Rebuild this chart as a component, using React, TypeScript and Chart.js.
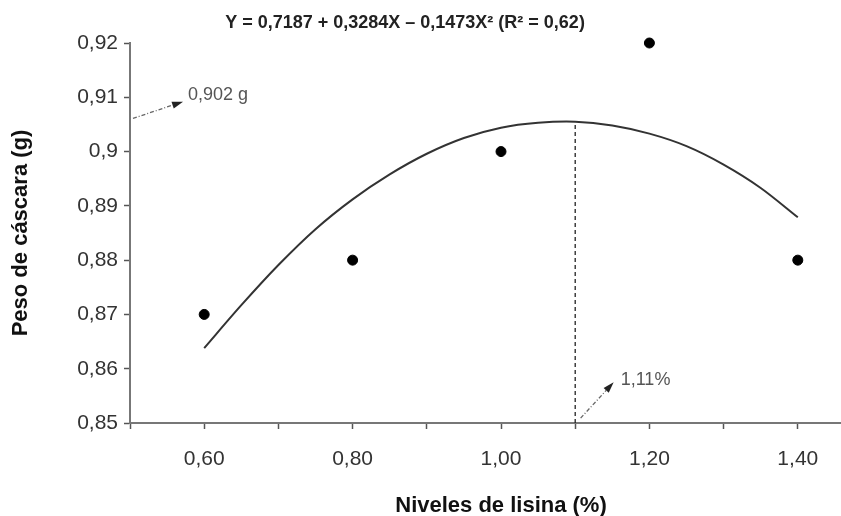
import React, { useEffect, useRef } from 'react';
import { Chart, registerables } from 'chart.js';

Chart.register(...registerables);

// ---- data ----
const levels = [0.6, 0.8, 1.0, 1.2, 1.4];
const shellWeight = [0.87, 0.88, 0.9, 0.92, 0.88];

const fitX = [0.6, 0.65, 0.7, 0.75, 0.8, 0.85, 0.9, 0.95, 1.0, 1.05, 1.1, 1.15, 1.2, 1.25, 1.3, 1.35, 1.4];
const fitY = [0.8638, 0.8717, 0.8791, 0.8857, 0.8912, 0.8958, 0.8996, 0.9025, 0.9044, 0.9053, 0.9055, 0.9048, 0.9033, 0.901, 0.8976, 0.8933, 0.8879];

const optimumX = [1.1, 1.1];
const optimumY = [0.85, 0.9055];

const xTickValues = [0.5, 0.6, 0.7, 0.8, 0.9, 1.0, 1.1, 1.2, 1.3, 1.4, 1.5];
const xTickLabels = ['', '0,60', '', '0,80', '', '1,00', '', '1,20', '', '1,40', ''];
const yTickValues = [0.85, 0.86, 0.87, 0.88, 0.89, 0.9, 0.91, 0.92];
const yTickLabels = ['0,85', '0,86', '0,87', '0,88', '0,89', '0,9', '0,91', '0,92'];

const equationText = 'Y = 0,7187 + 0,3284X \u2013 0,1473X\u00B2 (R\u00B2 = 0,62)';
const xTitle = 'Niveles de lisina (%)';
const yTitle = 'Peso de c\u00E1scara (g)';

const noteWeight = { text: '0,902 g', from: [0.504, 0.9061], to: [0.5715, 0.9092], label: [0.578, 0.9105] };
const noteLevel = { text: '1,11%', from: [1.1073, 0.8509], to: [1.1518, 0.8575], label: [1.1613, 0.858] };

const FONT = "'Liberation Sans', Arial, Helvetica, sans-serif";

function findLabel(values: number[], labels: string[], v: number): string {
  const i = values.findIndex((t) => Math.abs(t - v) < 1e-6);
  return i >= 0 ? labels[i] : '';
}

const annotationPlugin = {
  id: 'annotations',
  afterDraw(chart: any) {
    const { ctx, scales } = chart;
    const xs = scales.x;
    const ys = scales.y;
    ctx.save();
    ctx.font = `bold 18px ${FONT}`;
    ctx.fillStyle = '#222';
    ctx.textAlign = 'center';
    ctx.textBaseline = 'middle';
    ctx.fillText(equationText, 405, 23);

    const drawNote = (n: any) => {
      const x1 = xs.getPixelForValue(n.from[0]);
      const y1 = ys.getPixelForValue(n.from[1]);
      const x2 = xs.getPixelForValue(n.to[0]);
      const y2 = ys.getPixelForValue(n.to[1]);
      const ang = Math.atan2(y2 - y1, x2 - x1);
      const headLen = 11;
      const bx = x2 - headLen * Math.cos(ang);
      const by = y2 - headLen * Math.sin(ang);
      ctx.strokeStyle = '#666';
      ctx.lineWidth = 1.3;
      ctx.setLineDash([4, 2, 1, 2]);
      ctx.beginPath();
      ctx.moveTo(x1, y1);
      ctx.lineTo(bx, by);
      ctx.stroke();
      ctx.setLineDash([]);
      ctx.fillStyle = '#222';
      ctx.beginPath();
      ctx.moveTo(x2, y2);
      ctx.lineTo(bx + 3.5 * Math.sin(ang), by - 3.5 * Math.cos(ang));
      ctx.lineTo(bx - 3.5 * Math.sin(ang), by + 3.5 * Math.cos(ang));
      ctx.closePath();
      ctx.fill();
      ctx.font = `18px ${FONT}`;
      ctx.fillStyle = '#555';
      ctx.textAlign = 'left';
      ctx.textBaseline = 'middle';
      ctx.fillText(n.text, xs.getPixelForValue(n.label[0]), ys.getPixelForValue(n.label[1]));
    };
    drawNote(noteWeight);
    drawNote(noteLevel);
    ctx.restore();
  },
};

export default function App() {
  const canvasRef = useRef<HTMLCanvasElement | null>(null);

  useEffect(() => {
    const canvas = canvasRef.current;
    if (!canvas) return;
    const chart = new Chart(canvas, {
      type: 'scatter',
      data: {
        datasets: [
          {
            label: 'Ajuste',
            data: fitX.map((x, i) => ({ x, y: fitY[i] })),
            showLine: true,
            borderColor: '#333',
            borderWidth: 2,
            pointRadius: 0,
            tension: 0.3,
            fill: false,
          },
          {
            label: 'Óptimo',
            data: optimumX.map((x, i) => ({ x, y: optimumY[i] })),
            showLine: true,
            borderColor: '#222',
            borderWidth: 1.3,
            borderDash: [4, 3],
            pointRadius: 0,
            fill: false,
          },
          {
            label: 'Peso de cáscara',
            data: levels.map((x, i) => ({ x, y: shellWeight[i] })),
            showLine: false,
            pointRadius: 5,
            pointBackgroundColor: '#000',
            pointBorderColor: '#000',
            clip: false as any,
          },
        ],
      },
      options: {
        responsive: false,
        animation: false,
        devicePixelRatio: 1,
        layout: { padding: { top: 43, left: 0, right: 0, bottom: 0 } },
        plugins: {
          legend: { display: false },
          title: { display: false },
          tooltip: { enabled: false },
        },
        scales: {
          x: {
            type: 'linear',
            min: 0.5,
            max: 1.5,
            afterBuildTicks: (s: any) => {
              s.ticks = xTickValues.map((v) => ({ value: v }));
            },
            afterFit: (s: any) => {
              s.height = 93;
              s.paddingRight = 0;
              s.paddingLeft = 0;
            },
            ticks: {
              autoSkip: false,
              maxRotation: 0,
              padding: 18,
              color: '#333',
              font: { family: FONT, size: 21 },
              callback: (v: any) => findLabel(xTickValues, xTickLabels, Number(v)),
            },
            grid: {
              display: true,
              drawOnChartArea: false,
              drawTicks: true,
              tickLength: 6,
              tickColor: '#555',
              tickWidth: 1.5,
            },
            border: { display: true, color: '#777', width: 2 },
            title: {
              display: true,
              text: xTitle,
              color: '#111',
              font: { family: FONT, size: 22, weight: 'bold' },
              padding: { top: 0, bottom: -3 },
            },
          },
          y: {
            type: 'linear',
            min: 0.85,
            max: 0.92,
            afterBuildTicks: (s: any) => {
              s.ticks = yTickValues.map((v) => ({ value: v }));
            },
            afterFit: (s: any) => {
              s.width = 130;
            },
            ticks: {
              padding: 6,
              color: '#333',
              font: { family: FONT, size: 21 },
              callback: (v: any) => findLabel(yTickValues, yTickLabels, Number(v)),
            },
            grid: {
              display: true,
              drawOnChartArea: false,
              drawTicks: true,
              tickLength: 6,
              tickColor: '#555',
              tickWidth: 1.5,
            },
            border: { display: true, color: '#777', width: 2 },
            title: {
              display: true,
              text: yTitle,
              color: '#111',
              font: { family: FONT, size: 22, weight: 'bold' },
              padding: { top: 8, bottom: 0 },
            },
          },
        },
      } as any,
      plugins: [annotationPlugin],
    });
    return () => chart.destroy();
  }, []);

  return (
    <div
      style={{
        position: 'fixed',
        left: 0,
        top: 0,
        width: 841,
        height: 516,
        overflow: 'hidden',
        background: '#fff',
      }}
    >
      <canvas ref={canvasRef} width={878} height={516} style={{ width: 878, height: 516, display: 'block' }} />
    </div>
  );
}
